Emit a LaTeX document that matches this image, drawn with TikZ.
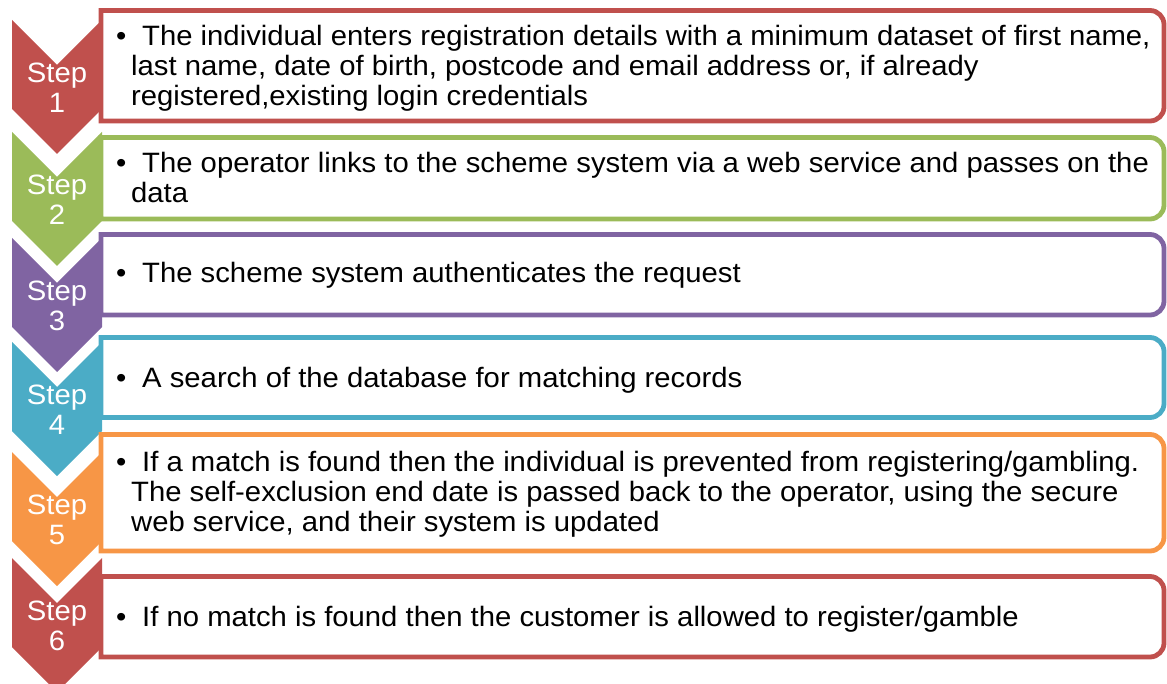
\documentclass[tikz,border=0pt]{standalone}
\usepackage{fontspec}
\setmainfont{Liberation Sans}[FakeStretch=1.045]
\usetikzlibrary{positioning}
\definecolor{cred}{RGB}{192,80,77}
\definecolor{cgreen}{RGB}{155,187,89}
\definecolor{cpurple}{RGB}{128,100,162}
\definecolor{cteal}{RGB}{75,172,198}
\definecolor{corange}{RGB}{247,150,70}
\newcommand{\cont}{\hspace*{15pt}}
\newcommand{\bul}{\makebox[26pt][l]{\textbullet}}

\begin{document}
\begin{tikzpicture}[x=1pt, y=-1pt,
    steplabel/.style={text=white, font=\fontsize{28}{30}\selectfont, align=center, inner sep=0pt},
    panel/.style={line width=4.8pt, fill=white},
    bullets/.style={font=\fontsize{28}{30}\selectfont, align=left, anchor=north west, inner sep=0pt},
  ]
  \useasboundingbox (0,0) rectangle (1167,684);
  % chevrons
  \foreach \t/\c/\n in {20/cred/1, 132/cgreen/2, 238/cpurple/3, 342/cteal/4, 452/corange/5, 558/cred/6} {
    \fill[\c] (12,\t) -- ++(45,45) -- ++(45,-45) -- ++(0,89) -- ++(-45,45) -- ++(-45,-45) -- cycle;
    \node[steplabel] (s\n) at (57,\t+68) {Step\\\n};
  }
  % panels, only the right corners rounded
  \foreach \a/\b/\c/\n in {10.5/121/cred/1, 137.5/219/cgreen/2, 234.5/315/cpurple/3,
                           337.5/417.5/cteal/4, 434.5/551/corange/5, 576.5/657/cred/6} {
    \draw[panel, draw=\c] (101,\b) -- (101,\a) -- (1150,\a) arc[start angle=90, end angle=0, radius=14pt]
      -- (1164,\b-14) arc[start angle=0, end angle=-90, radius=14pt] -- cycle;
  }
  % texts
  \node[bullets] (t1) at (116,25) {\bul The individual enters registration details with a minimum dataset of first name,\\
    \cont last name, date of birth, postcode and email address or, if already\\
    \cont registered,existing login credentials};
  \node[bullets] (t2) at (116,152) {\bul The operator links to the scheme system via a web service and passes on the\\
    \cont data};
  \node[bullets] (t3) at (116,262) {\bul The scheme system authenticates the request};
  \node[bullets] (t4) at (116,367) {\bul A search of the database for matching records};
  \node[bullets] (t5) at (116,451) {\bul If a match is found then the individual is prevented from registering/gambling.\\
    \cont The self-exclusion end date is passed back to the operator, using the secure\\
    \cont web service, and their system is updated};
  \node[bullets] (t6) at (116,606) {\bul If no match is found then the customer is allowed to register/gamble};
\end{tikzpicture}
\end{document}
